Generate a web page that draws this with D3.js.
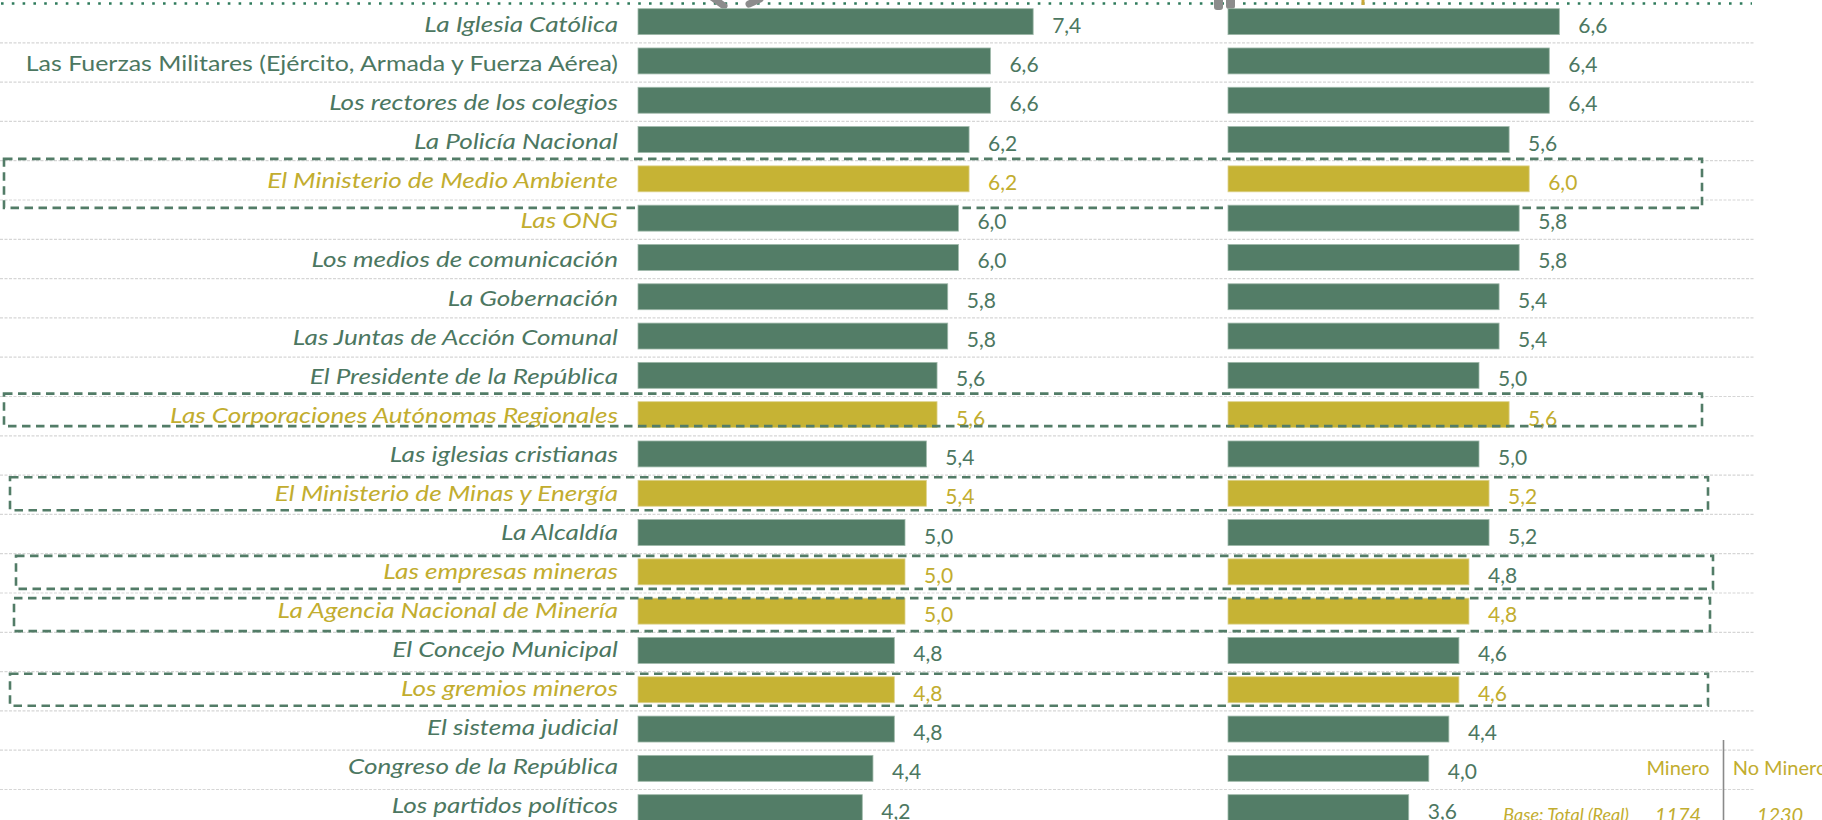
<!DOCTYPE html>
<html><head><meta charset="utf-8">
<script src="https://cdn.jsdelivr.net/npm/d3@7/dist/d3.min.js"></script>
<style>
html,body{margin:0;padding:0;background:#fff;overflow:hidden;}
svg{display:block;}
</style></head>
<body>
<svg id="chart" width="1822" height="820"></svg>
<script>
const categories = [
  "La Iglesia Católica",
  "Las Fuerzas Militares (Ejército, Armada y Fuerza Aérea)",
  "Los rectores de los colegios",
  "La Policía Nacional",
  "El Ministerio de Medio Ambiente",
  "Las ONG",
  "Los medios de comunicación",
  "La Gobernación",
  "Las Juntas de Acción Comunal",
  "El Presidente de la República",
  "Las Corporaciones Autónomas Regionales",
  "Las iglesias cristianas",
  "El Ministerio de Minas y Energía",
  "La Alcaldía",
  "Las empresas mineras",
  "La Agencia Nacional de Minería",
  "El Concejo Municipal",
  "Los gremios mineros",
  "El sistema judicial",
  "Congreso de la República",
  "Los partidos políticos"
];
const minero   = [7.4,6.6,6.6,6.2,6.2,6.0,6.0,5.8,5.8,5.6,5.6,5.4,5.4,5.0,5.0,5.0,4.8,4.8,4.8,4.4,4.2];
const noMinero = [6.6,6.4,6.4,5.6,6.0,5.8,5.8,5.4,5.4,5.0,5.6,5.0,5.2,5.2,4.8,4.8,4.6,4.6,4.4,4.0,3.6];
// categories related to mining / environment (highlighted)
const highlighted = ["El Ministerio de Medio Ambiente","Las Corporaciones Autónomas Regionales",
  "El Ministerio de Minas y Energía","Las empresas mineras","La Agencia Nacional de Minería","Los gremios mineros"];
const goldLabels = highlighted.concat(["Las ONG"]);
const uprightLabels = ["Las Fuerzas Militares (Ejército, Armada y Fuerza Aérea)"];
const greenValueExceptionsRight = ["Las empresas mineras"];
const seriesNames = ["Minero", "No Minero"];
const baseLabel = "Base: Total (Real)";
const baseValues = ["1174", "1230"];

const GREEN = "#537d67", GOLD = "#c6b334", TXT_GREEN = "#4c7761", TXT_GOLD = "#c2ad2f";
const FONT = "Lato, 'Open Sans', sans-serif";

const svg = d3.select("#chart");

const y = d3.scaleBand().domain(categories).range([2, 2 + 39.3 * categories.length])
  .paddingInner(0.34).paddingOuter(0.17);
// category-label axis has a marginally tighter pitch than the bars
const yLab = d3.scaleBand().domain(categories).range([32.2, 32.2 + 39.06 * categories.length]);
const xL = d3.scaleLinear().domain([0, 10]).range([638, 638 + 534]);
const xR = d3.scaleLinear().domain([0, 10]).range([1228, 1228 + 502]);
const step = y.step();

// gridlines at row boundaries
svg.append("g").selectAll("line").data(categories.slice(0, -1)).join("line")
  .attr("x1", 0).attr("x2", 1755)
  .attr("y1", d => y(d) - y.paddingOuter() * step + step + 1.5)
  .attr("y2", d => y(d) - y.paddingOuter() * step + step + 1.5)
  .attr("stroke", "#d6d6d6").attr("stroke-width", 1.2).attr("stroke-dasharray", "3 1.5");

// top dotted line
svg.append("line").attr("x1", 1).attr("x2", 1752).attr("y1", 3.5).attr("y2", 3.5)
  .attr("stroke", "#2f7b5c").attr("stroke-width", 2.6).attr("stroke-dasharray", "2.6 8.2");

// clipped icon fragments at the top edge
const ic = svg.append("g").attr("fill", "#8c8c8c").attr("stroke", "#8c8c8c");
ic.append("line").attr("x1", 713).attr("y1", -2).attr("x2", 724).attr("y2", 6)
  .attr("stroke-width", 7).attr("stroke-linecap", "round");
ic.append("line").attr("x1", 749).attr("y1", 4).attr("x2", 760).attr("y2", -1)
  .attr("stroke-width", 7).attr("stroke-linecap", "round");
ic.append("rect").attr("x", 1214).attr("y", -6).attr("width", 9).attr("height", 16).attr("rx", 3).attr("stroke", "none");
ic.append("rect").attr("x", 1226).attr("y", -6).attr("width", 9).attr("height", 15).attr("rx", 3).attr("stroke", "none");
svg.append("line").attr("x1", 1363).attr("x2", 1363).attr("y1", 0).attr("y2", 5)
  .attr("stroke", "#c9a93a").attr("stroke-width", 3);

// annotation boxes (dashed) around highlighted rows: offsets relative to row centre
const boxes = [
  {cat: "El Ministerio de Medio Ambiente", x0: 4, x1: 1702, up: 20, down: 29},
  {cat: "Las Corporaciones Autónomas Regionales", x0: 4, x1: 1702, up: 21, down: 11.5},
  {cat: "El Ministerio de Minas y Energía", x0: 10, x1: 1708, up: 16, down: 17},
  {cat: "Las empresas mineras", x0: 16, x1: 1713, up: 16, down: 17},
  {cat: "La Agencia Nacional de Minería", x0: 14, x1: 1710, up: 13, down: 20},
  {cat: "Los gremios mineros", x0: 10, x1: 1708, up: 16, down: 16}
];

const fmt = v => d3.format(".1f")(v).replace(".", ",");
const rows = svg.append("g").selectAll("g").data(categories).join("g");
rows.each(function(cat, i) {
  const g = d3.select(this);
  const hi = highlighted.includes(cat);
  const yc = y(cat) + y.bandwidth() / 2;
  g.append("rect").attr("x", xL(0)).attr("y", y(cat)).attr("width", xL(minero[i]) - xL(0))
    .attr("height", y.bandwidth()).attr("fill", hi ? GOLD : GREEN)
    .attr("stroke", hi ? "#ddd28f" : "#9fb9aa").attr("stroke-width", 0.8);
  g.append("rect").attr("x", xR(0)).attr("y", y(cat)).attr("width", xR(noMinero[i]) - xR(0))
    .attr("height", y.bandwidth()).attr("fill", hi ? GOLD : GREEN)
    .attr("stroke", hi ? "#ddd28f" : "#9fb9aa").attr("stroke-width", 0.8);
  // category label (source text is horizontally wide; stretch to match)
  const upright = uprightLabels.includes(cat);
  g.append("text").attr("transform", `translate(618,${yLab(cat)}) scale(${upright ? 1.16 : 1.215},1)`)
    .attr("text-anchor", "end")
    .attr("font-family", FONT).attr("font-size", 21.5)
    .attr("font-style", upright ? "normal" : "italic")
    .attr("fill", goldLabels.includes(cat) ? TXT_GOLD : TXT_GREEN).text(cat);
  // value labels
  g.append("text").attr("x", xL(minero[i]) + 19).attr("y", yc + 11)
    .attr("font-family", FONT).attr("font-size", 21)
    .attr("fill", hi ? TXT_GOLD : TXT_GREEN).text(fmt(minero[i]));
  g.append("text").attr("x", xR(noMinero[i]) + 19).attr("y", yc + 11)
    .attr("font-family", FONT).attr("font-size", 21)
    .attr("fill", hi && !greenValueExceptionsRight.includes(cat) ? TXT_GOLD : TXT_GREEN).text(fmt(noMinero[i]));
  const b = boxes.find(d => d.cat === cat);
  if (b) {
    g.append("rect").attr("x", b.x0).attr("y", yc - b.up).attr("width", b.x1 - b.x0)
      .attr("height", b.up + b.down).attr("fill", "none")
      .attr("stroke", "#527c67").attr("stroke-width", 2.6).attr("stroke-dasharray", "8.5 5.5");
  }
});

// legend block bottom-right
const lg = svg.append("g").attr("font-family", FONT).attr("fill", TXT_GOLD);
lg.append("line").attr("x1", 1723.5).attr("x2", 1723.5).attr("y1", 740).attr("y2", 820)
  .attr("stroke", "#8a8a8a").attr("stroke-width", 1.6);
const colX = [1678, 1780];
lg.selectAll("text.s").data(seriesNames).join("text").attr("class", "s")
  .attr("x", (d, i) => colX[i]).attr("y", 775).attr("text-anchor", "middle")
  .attr("font-size", 20).text(d => d);
lg.selectAll("text.b").data(baseValues).join("text").attr("class", "b")
  .attr("x", (d, i) => colX[i]).attr("y", 822).attr("text-anchor", "middle")
  .attr("font-size", 20).attr("font-style", "italic").text(d => d);
lg.append("text").attr("x", 1629).attr("y", 821).attr("text-anchor", "end")
  .attr("font-size", 18).attr("font-style", "italic").text(baseLabel);
</script>
</body></html>
